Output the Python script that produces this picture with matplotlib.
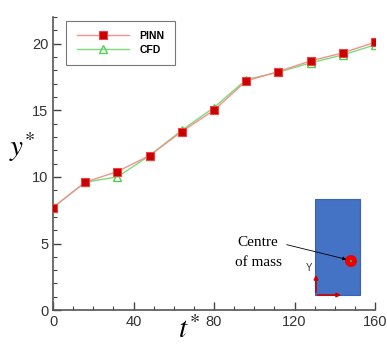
import numpy as np
import matplotlib.pyplot as plt
from matplotlib.patches import Rectangle, Circle
from matplotlib.ticker import MultipleLocator

# time instants and vertical position of the centre of mass
t = [0, 16, 32, 48, 64, 80, 96, 112, 128, 144, 160]
y_pinn = [7.7, 9.6, 10.4, 11.6, 13.4, 15.0, 17.2, 17.9, 18.7, 19.3, 20.1]
y_cfd = [7.7, 9.6, 10.0, 11.6, 13.5, 15.2, 17.3, 17.85, 18.55, 19.15, 19.9]

plt.rcParams['font.family'] = ['Liberation Sans', 'DejaVu Sans']
plt.rcParams['mathtext.fontset'] = 'stix'

fig = plt.figure(figsize=(3.87, 3.45), dpi=100)
ax = fig.add_axes([0.137, 0.101, 0.832, 0.850])

ax.plot(t, y_cfd, color='#77e077', lw=1, marker='^', ms=6,
        mfc='none', mec='#55d055', mew=1, label='CFD', zorder=2)
ax.plot(t, y_pinn, color='#f49090', lw=1, marker='s', ms=5.5,
        mfc='#c80000', mec='#f04040', mew=0.8, label='PINN', zorder=3)

ax.set_xlim(0, 160)
ax.set_ylim(0, 22)
ax.set_xticks([0, 40, 80, 120, 160])
ax.set_yticks([0, 5, 10, 15, 20])
ax.xaxis.set_minor_locator(MultipleLocator(10))
ax.yaxis.set_minor_locator(MultipleLocator(1))
ax.tick_params(which='both', direction='in', color='#444444', labelsize=10.5,
               labelcolor='#333333')
ax.tick_params(which='major', length=6, width=1)
ax.tick_params(which='minor', length=3, width=0.8)
for s in ['top', 'right']:
    ax.spines[s].set_visible(False)
for s in ['left', 'bottom']:
    ax.spines[s].set_color('#555555')
    ax.spines[s].set_linewidth(1.2)

# axis titles placed as in the original figure
fig.text(22 / 387, 1 - 147 / 345, r'$y^{\!*}$', fontsize=21, ha='center', va='center')
fig.text(189 / 387, 1 - 330 / 345, r'$t^{\!*}$', fontsize=21, ha='center', va='center')

h, l = ax.get_legend_handles_labels()
leg = ax.legend(h[::-1], l[::-1], loc='upper left', bbox_to_anchor=(0.025, 1.005),
                prop={'weight': 'bold', 'size': 7.5}, frameon=True,
                fancybox=False, edgecolor='#555555', handlelength=5,
                borderpad=1.0, labelspacing=0.35, handletextpad=1.0)
leg.get_frame().set_linewidth(0.8)

# inset sketch of the body
ins = fig.add_axes([0, 0, 1, 1], facecolor='none')
ins.set_xlim(0, 387)
ins.set_ylim(345, 0)
ins.axis('off')
ins.add_patch(Rectangle((315, 199), 45, 96, facecolor='#4472c4', edgecolor='#3a62b0', lw=0.8))
ins.add_patch(Circle((351, 261), 6, facecolor='#ee0000', edgecolor='none'))
ins.add_patch(Circle((351, 261), 1.2, facecolor='#44aa44', edgecolor='none'))
ins.annotate('', xy=(316, 272), xytext=(316, 295),
             arrowprops=dict(arrowstyle='-|>', color='#cc0000', lw=1.2, mutation_scale=6))
ins.annotate('', xy=(344, 295), xytext=(315, 295),
             arrowprops=dict(arrowstyle='-|>', color='#cc0000', lw=1.2, mutation_scale=6))
ins.text(309, 268, 'Y', fontsize=7, ha='center', va='center', color='#333333')
ins.text(258, 242, 'Centre', fontsize=11, family='Liberation Serif', ha='center', va='center')
ins.text(258, 263, 'of mass', fontsize=11, family='Liberation Serif', ha='center', va='center')
ins.annotate('', xy=(349, 260), xytext=(284, 244),
             arrowprops=dict(arrowstyle='-|>', color='black', lw=0.6, mutation_scale=5))

fig.savefig('out.png', dpi=100)
